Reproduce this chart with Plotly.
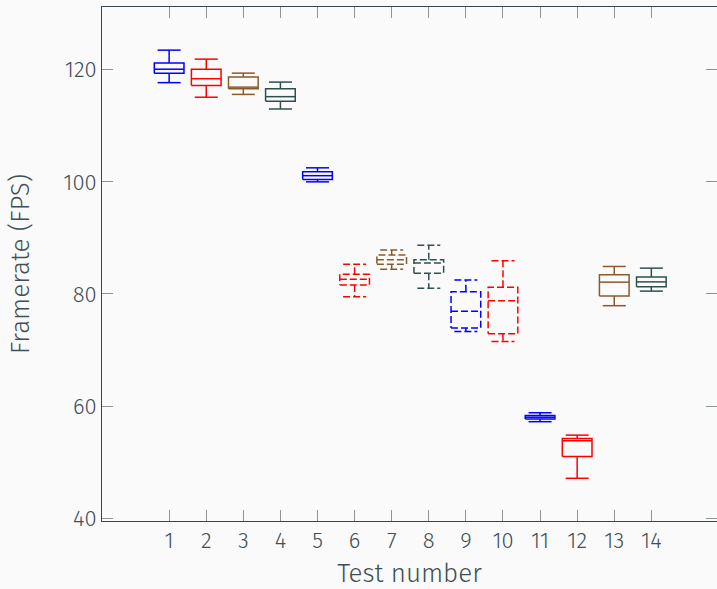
import plotly.graph_objects as go

# Framerate distribution per test (five-number summaries, FPS)
tests = list(range(1, 15))
whisker_low = [117.7, 115.1, 115.6, 113.0, 100.0, 79.5, 84.4, 81.0, 73.3, 71.5, 57.2, 47.1, 77.9, 80.5]
q1 = [119.4, 117.2, 116.6, 114.4, 100.4, 81.6, 85.3, 83.7, 73.9, 72.9, 57.7, 51.0, 79.65, 81.3]
median = [120.1, 118.4, 116.9, 115.2, 101.1, 82.6, 86.1, 85.5, 76.9, 78.8, 58.0, 53.8, 82.1, 82.15]
q3 = [121.2, 120.1, 118.7, 116.6, 101.8, 83.5, 86.95, 86.1, 80.4, 81.2, 58.3, 54.2, 83.4, 83.0]
whisker_high = [123.5, 121.9, 119.4, 117.8, 102.5, 85.3, 87.85, 88.7, 82.5, 85.9, 58.8, 54.8, 84.9, 84.6]
colors = ["#0000ff", "#ff0000", "#8b5a2b", "#2f4f4f",
          "#0000ff", "#ff0000", "#8b5a2b", "#2f4f4f",
          "#0000ff", "#ff0000", "#0000ff", "#ff0000", "#8b5a2b", "#2f4f4f"]
dashed = [False, False, False, False, False, True, True, True, True, True,
          False, False, False, False]

BOX_W = 0.8
CAP_W = 0.62
TEXT = "#3f4f57"
AXIS = "#37474f"
FONT = "Fira Sans, Open Sans, Noto Sans, sans-serif"

fig = go.Figure()
for i, t in enumerate(tests):
    b, c = BOX_W / 2, CAP_W / 2
    xs, ys = [], []
    # box outline
    xs += [t - b, t + b, t + b, t - b, t - b, None]
    ys += [q1[i], q1[i], q3[i], q3[i], q1[i], None]
    # median
    xs += [t - b, t + b, None]
    ys += [median[i], median[i], None]
    # whiskers
    xs += [t, t, None, t, t, None]
    ys += [q3[i], whisker_high[i], None, q1[i], whisker_low[i], None]
    # caps
    xs += [t - c, t + c, None, t - c, t + c]
    ys += [whisker_high[i], whisker_high[i], None, whisker_low[i], whisker_low[i]]
    fig.add_trace(go.Scatter(
        x=xs, y=ys, mode="lines", showlegend=False, hoverinfo="skip",
        line=dict(color=colors[i], width=1.5,
                  dash="7px,3px" if dashed[i] else "solid"),
    ))

axis_common = dict(
    showline=True, linecolor=AXIS, linewidth=1, mirror="ticks",
    ticks="inside", ticklen=11, tickcolor="#8d9599", tickwidth=1,
    showgrid=False, zeroline=False,
    tickfont=dict(family=FONT, size=22, color=TEXT, weight=300),
)
title_font = dict(family=FONT, size=26, color=TEXT, weight=300)

fig.update_xaxes(
    range=[-0.81, 15.77], tickmode="array", tickvals=tests,
    ticktext=[str(t) for t in tests],
    title=dict(text="Test number", font=title_font, standoff=17),
    **axis_common,
)
fig.update_yaxes(
    range=[39.48, 131.2], tickmode="array", tickvals=[40, 60, 80, 100, 120],
    title=dict(text="Framerate (FPS)", font=title_font, standoff=26),
    **axis_common,
)

fig.update_layout(
    width=717, height=589,
    margin=dict(l=102, r=0, t=7, b=68),
    paper_bgcolor="#fafafa", plot_bgcolor="#fafafa",
    font=dict(family=FONT, color=TEXT),
)

fig.write_html("out.html")
